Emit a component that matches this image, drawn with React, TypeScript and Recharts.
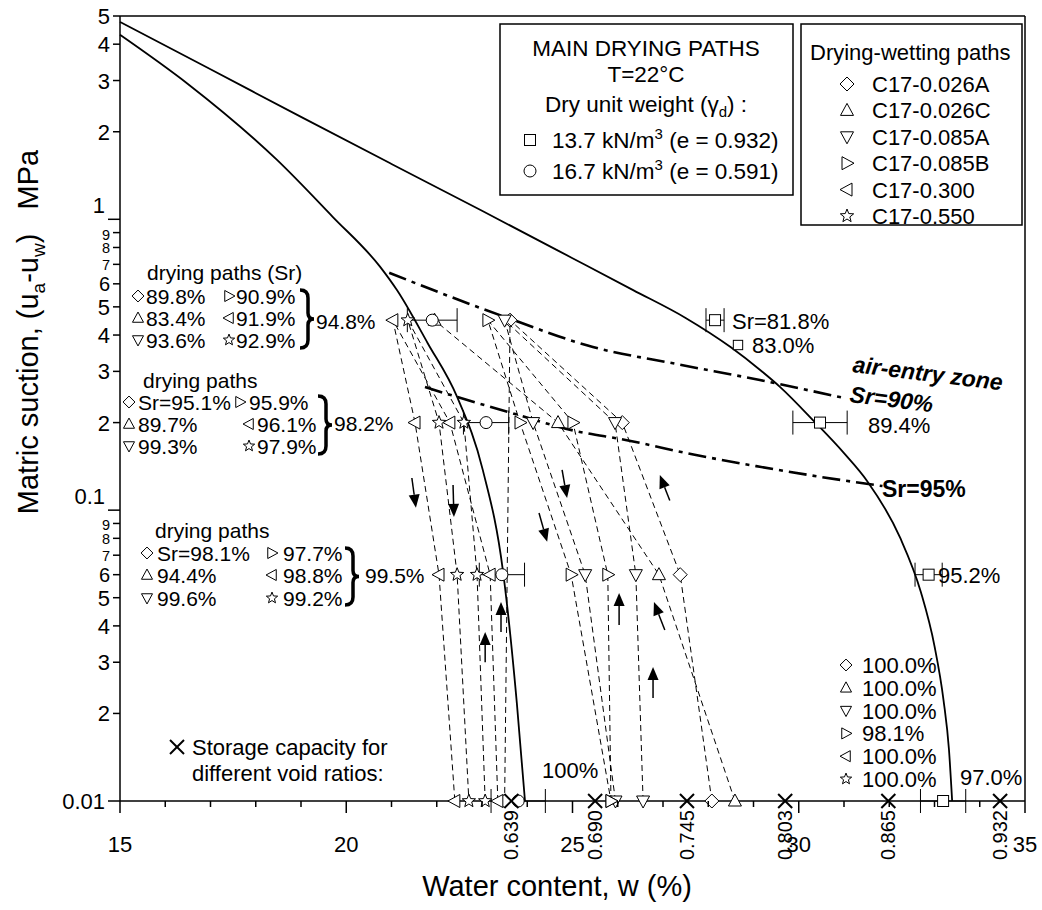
import React from 'react';
import { ScatterChart, Scatter, XAxis, YAxis, ErrorBar, ReferenceLine } from 'recharts';

const FONT = '"Liberation Sans", Arial, Helvetica, sans-serif';

// ---------- axes ----------
const xTicks = [15, 16, 17, 18, 19, 20, 21, 22, 23, 24, 25, 26, 27, 28, 29, 30, 31, 32, 33, 34, 35];
const xMajorTicks = [15, 20, 25, 30, 35];
const yTicks = [0.01, 0.02, 0.03, 0.04, 0.05, 0.06, 0.07, 0.08, 0.09, 0.1, 0.2, 0.3, 0.4, 0.5, 0.6, 0.7, 0.8, 0.9, 1, 2, 3, 4, 5];
const yTickLabels = ['0.01', '2', '3', '4', '5', '6', '7', '8', '9', '0.1', '2', '3', '4', '5', '6', '7', '8', '9', '1', '2', '3', '4', '5'];
const yMajorTicks = [0.01, 0.1, 1];

// ---------- main drying curves (solid) ----------
const curveE0932 = [
  { w: 15, v: 4.77 }, { w: 17, v: 3.28 }, { w: 19, v: 2.25 }, { w: 21, v: 1.55 }, { w: 23, v: 1.07 },
  { w: 25, v: 0.735 }, { w: 26.34, v: 0.571 }, { w: 27.5, v: 0.458 }, { w: 28.5, v: 0.363 },
  { w: 29.14, v: 0.304 }, { w: 29.59, v: 0.265 }, { w: 30.34, v: 0.202 }, { w: 31.0, v: 0.157 },
  { w: 31.51, v: 0.126 }, { w: 32.24, v: 0.0804 }, { w: 32.7, v: 0.0522 }, { w: 33.0, v: 0.0341 },
  { w: 33.2, v: 0.0222 }, { w: 33.32, v: 0.015 }, { w: 33.39, v: 0.01 },
];
const curveE0591 = [
  { w: 15, v: 4.31 }, { w: 16.5, v: 2.92 }, { w: 18.47, v: 1.6 }, { w: 19.7, v: 1.02 }, { w: 20.75, v: 0.686 },
  { w: 21.12, v: 0.571 }, { w: 21.8, v: 0.375 }, { w: 22.45, v: 0.245 }, { w: 23.02, v: 0.137 },
  { w: 23.46, v: 0.0623 }, { w: 23.77, v: 0.0217 }, { w: 23.95, v: 0.01 },
];

// ---------- Sr lines (dash-dot) ----------
const sr90Line = [
  { w: 20.95, v: 0.655 }, { w: 21.92, v: 0.571 }, { w: 23.5, v: 0.462 }, { w: 25.45, v: 0.364 },
  { w: 27.3, v: 0.318 }, { w: 29.14, v: 0.28 }, { w: 31.0, v: 0.243 },
];
const sr95Line = [
  { w: 21.74, v: 0.265 }, { w: 22.45, v: 0.245 }, { w: 23.69, v: 0.215 }, { w: 25.01, v: 0.188 },
  { w: 26.2, v: 0.174 }, { w: 27.7, v: 0.155 }, { w: 29.14, v: 0.141 }, { w: 30.5, v: 0.13 }, { w: 31.85, v: 0.121 },
];

// ---------- main drying path points (with error) ----------
const squares137 = [
  { w: 28.15, v: 0.45, err: 0.2 }, { w: 30.47, v: 0.2, err: 0.6 }, { w: 32.87, v: 0.06, err: 0.3 }, { w: 33.19, v: 0.01, err: 0.5 },
];
const circles167 = [
  { w: 21.9, v: 0.45, err: 0.55 }, { w: 23.09, v: 0.2, err: 0.5 }, { w: 23.44, v: 0.06, err: 0.5 }, { w: 23.8, v: 0.01, err: 0.6 },
];

// ---------- drying-wetting paths ----------
const pathC17_026A = [
  { w: 28.08, v: 0.01 }, { w: 27.38, v: 0.06 }, { w: 26.1, v: 0.2 }, { w: 23.62, v: 0.45 }, { w: 23.5, v: 0.01 },
];
const pathC17_026C = [
  { w: 28.59, v: 0.01 }, { w: 26.91, v: 0.06 }, { w: 24.68, v: 0.2 }, { w: 21.95, v: 0.45 },
];
const pathC17_085A = [
  { w: 26.56, v: 0.01 }, { w: 26.4, v: 0.06 }, { w: 25.94, v: 0.2 }, { w: 23.5, v: 0.45 },
  { w: 24.13, v: 0.2 }, { w: 25.28, v: 0.06 }, { w: 25.95, v: 0.01 },
];
const pathC17_085B = [
  { w: 25.85, v: 0.01 }, { w: 25.78, v: 0.06 }, { w: 25.01, v: 0.2 }, { w: 23.13, v: 0.45 },
  { w: 23.84, v: 0.2 }, { w: 24.97, v: 0.06 }, { w: 25.85, v: 0.01 },
];
const pathC17_300 = [
  { w: 23.35, v: 0.01 }, { w: 23.18, v: 0.06 }, { w: 22.29, v: 0.2 }, { w: 21.03, v: 0.45 },
  { w: 21.52, v: 0.2 }, { w: 22.05, v: 0.06 }, { w: 22.4, v: 0.01 },
];
const pathC17_550 = [
  { w: 23.07, v: 0.01 }, { w: 22.89, v: 0.06 }, { w: 22.6, v: 0.2 }, { w: 21.36, v: 0.45 },
  { w: 22.05, v: 0.2 }, { w: 22.45, v: 0.06 }, { w: 22.71, v: 0.01 },
];

// ---------- storage capacity ----------
const voidRatioLabels = ['0.639', '0.690', '0.745', '0.803', '0.865', '0.932'];
const storageW = [23.65, 25.5, 27.53, 29.7, 31.98, 34.45];
const storagePoints = storageW.map((w, i) => ({ w, v: 0.01, e: voidRatioLabels[i] }));

// ---------- direction arrows (tail -> head) ----------
const arrows = [
  { w1: 21.45, v1: 0.129, w2: 21.54, v2: 0.102 },
  { w1: 22.36, v1: 0.122, w2: 22.38, v2: 0.0948 },
  { w1: 24.77, v1: 0.1375, w2: 24.88, v2: 0.11 },
  { w1: 24.26, v1: 0.0978, w2: 24.44, v2: 0.0778 },
  { w1: 27.15, v1: 0.108, w2: 26.93, v2: 0.132 },
  { w1: 23.42, v1: 0.0381, w2: 23.42, v2: 0.0483 },
  { w1: 23.07, v1: 0.03, w2: 23.07, v2: 0.0381 },
  { w1: 26.03, v1: 0.0403, w2: 26.03, v2: 0.0519 },
  { w1: 27.04, v1: 0.0387, w2: 26.8, v2: 0.0483 },
  { w1: 26.78, v1: 0.0226, w2: 26.78, v2: 0.0289 },
];

// ---------- glyphs ----------
type Kind = 'diamond' | 'triUp' | 'triDown' | 'triRight' | 'triLeft' | 'star' | 'square' | 'circle' | 'cross';

function glyph(kind: Kind, cx: number, cy: number, s = 1) {
  const st = { fill: '#fff', stroke: '#000', strokeWidth: 1 };
  const p = (pts: number[][]) => pts.map(([a, b]) => `${cx + a * s},${cy + b * s}`).join(' ');
  switch (kind) {
    case 'diamond':
      return <polygon points={p([[0, -7], [7, 0], [0, 7], [-7, 0]])} {...st} />;
    case 'triUp':
      return <polygon points={p([[0, -7], [6.5, 5], [-6.5, 5]])} {...st} />;
    case 'triDown':
      return <polygon points={p([[0, 7], [6.5, -5], [-6.5, -5]])} {...st} />;
    case 'triRight':
      return <polygon points={p([[7, 0], [-5, -6.5], [-5, 6.5]])} {...st} />;
    case 'triLeft':
      return <polygon points={p([[-7, 0], [5, -6.5], [5, 6.5]])} {...st} />;
    case 'star': {
      const pts: number[][] = [];
      for (let i = 0; i < 10; i++) {
        const r = i % 2 === 0 ? 7 : 3;
        const a = -Math.PI / 2 + (i * Math.PI) / 5;
        pts.push([r * Math.cos(a), r * Math.sin(a)]);
      }
      return <polygon points={p(pts)} {...st} />;
    }
    case 'square':
      return <rect x={cx - 5.5 * s} y={cy - 5.5 * s} width={11 * s} height={11 * s} {...st} />;
    case 'circle':
      return <circle cx={cx} cy={cy} r={6 * s} {...st} />;
    case 'cross':
      return (
        <g stroke="#000" strokeWidth={2}>
          <line x1={cx - 7 * s} y1={cy - 7 * s} x2={cx + 7 * s} y2={cy + 7 * s} />
          <line x1={cx - 7 * s} y1={cy + 7 * s} x2={cx + 7 * s} y2={cy - 7 * s} />
        </g>
      );
  }
  return <g />;
}

const shapeOf = (kind: Kind) => (props: any) => <g>{glyph(kind, props.cx, props.cy)}</g>;
const NoShape = () => <g />;

const StorageShape = (props: any) => (
  <g>
    {glyph('cross', props.cx, props.cy)}
    <text
      transform={`translate(${props.cx + 7},${props.cy + 9}) rotate(-90)`}
      textAnchor="end"
      fontSize={20}
      fontFamily={FONT}
      fill="#000"
    >
      {props.payload.e}
    </text>
  </g>
);

const ArrowShape = (props: any) => {
  const { x1, y1, x2, y2 } = props;
  const dx = x2 - x1;
  const dy = y2 - y1;
  const L = Math.hypot(dx, dy) || 1;
  const ux = dx / L;
  const uy = dy / L;
  const hl = 13;
  const hw = 5.5;
  const bx = x2 - ux * hl;
  const by = y2 - uy * hl;
  return (
    <g>
      <line x1={x1} y1={y1} x2={bx} y2={by} stroke="#000" strokeWidth={1.5} />
      <polygon points={`${x2},${y2} ${bx - uy * hw},${by + ux * hw} ${bx + uy * hw},${by - ux * hw}`} fill="#000" />
    </g>
  );
};

const XTick = (props: any) => {
  const { x, y, payload } = props;
  const major = xMajorTicks.includes(payload.value);
  const len = major ? 12 : 6;
  return (
    <g>
      <line x1={x} x2={x} y1={y} y2={y + len} stroke="#000" strokeWidth={1.5} />
      {major && (
        <text x={x} y={y + 51} textAnchor="middle" fontSize={22} fontFamily={FONT} fill="#000">
          {payload.value}
        </text>
      )}
    </g>
  );
};

const YTick = (props: any) => {
  const { x, y, payload } = props;
  const idx = yTicks.findIndex((t) => Math.abs(t - payload.value) < 1e-9);
  const lbl = idx >= 0 ? yTickLabels[idx] : '';
  const major = yMajorTicks.some((t) => Math.abs(t - payload.value) < 1e-9);
  const len = major ? 12 : 7;
  const raised = lbl === '1' || lbl === '0.1';
  const sub = payload.value < 1 && !major;
  const tight = sub && (lbl === '7' || lbl === '8' || lbl === '9');
  const six = sub && lbl === '6';
  const nine = sub && lbl === '9';
  return (
    <g>
      <line x1={x - len} x2={x} y1={y} y2={y} stroke="#000" strokeWidth={1.5} />
      <text
        x={x - len - 3}
        y={y + (raised ? -6 : nine ? 7 : tight ? 5.5 : six ? 7 : 8)}
        textAnchor="end"
        fontSize={tight ? 14.5 : six ? 20 : 22}
        fontFamily={FONT}
        fill="#000"
      >
        {lbl}
      </text>
    </g>
  );
};

const dashed = { stroke: '#000', strokeWidth: 1, strokeDasharray: '6 4' };
const dashDot = { stroke: '#000', strokeWidth: 2.6, strokeDasharray: '18 6 4 6' };
const solid = { stroke: '#000', strokeWidth: 1.8 };

// ---------- overlay annotations ----------
const T = (p: any) => <text fontFamily={FONT} fill="#000" {...p} />;

const Brace = ({ x, y0, y1 }: { x: number; y0: number; y1: number }) => {
  const ym = (y0 + y1) / 2;
  const d = `M${x},${y0} Q${x + 8},${y0} ${x + 8},${y0 + 8} L${x + 8},${ym - 6} Q${x + 8},${ym} ${x + 14},${ym} Q${x + 8},${ym} ${x + 8},${ym + 6} L${x + 8},${y1 - 8} Q${x + 8},${y1} ${x},${y1}`;
  return <path d={d} fill="none" stroke="#000" strokeWidth={3.5} />;
};

const Overlay = () => {
  const fs = 21;
  return (
    <svg width={1042} height={910} style={{ position: 'absolute', left: 0, top: 0, pointerEvents: 'none' }}>
      {/* legend box 1 */}
      <rect x={500} y={24} width={293} height={171} fill="#fff" stroke="#000" strokeWidth={1.5} />
      <T x={646} y={56} fontSize={22.5} textAnchor="middle">MAIN DRYING PATHS</T>
      <T x={646} y={82} fontSize={22.5} textAnchor="middle">T=22°C</T>
      <T x={646} y={112} fontSize={22.5} textAnchor="middle">
        Dry unit weight (γ<tspan fontSize={15} dy={5}>d</tspan><tspan dy={-5}>) :</tspan>
      </T>
      {glyph('square', 530, 140)}
      <T x={552} y={148} fontSize={22.5}>
        13.7 kN/m<tspan fontSize={15} dy={-9}>3</tspan><tspan dy={9}> (e = 0.932)</tspan>
      </T>
      {glyph('circle', 530, 171)}
      <T x={552} y={179} fontSize={22.5}>
        16.7 kN/m<tspan fontSize={15} dy={-9}>3</tspan><tspan dy={9}> (e = 0.591)</tspan>
      </T>

      {/* legend box 2 */}
      <rect x={801} y={24} width={221} height={201} fill="#fff" stroke="#000" strokeWidth={1.5} />
      <T x={810} y={60} fontSize={22}>Drying-wetting paths</T>
      {([
        ['diamond', 'C17-0.026A'],
        ['triUp', 'C17-0.026C'],
        ['triDown', 'C17-0.085A'],
        ['triRight', 'C17-0.085B'],
        ['triLeft', 'C17-0.300'],
        ['star', 'C17-0.550'],
      ] as [Kind, string][]).map(([k, s], i) => {
        const cy = 84 + i * 26.4;
        return (
          <g key={s}>
            {glyph(k, 847, cy)}
            <T x={872} y={cy + 8} fontSize={22}>{s}</T>
          </g>
        );
      })}

      {/* left block 1 */}
      <T x={147} y={280} fontSize={fs}>drying paths (Sr)</T>
      {glyph('diamond', 138, 296, 0.85)}<T x={146} y={304} fontSize={fs}>89.8%</T>
      {glyph('triRight', 229, 296, 0.85)}<T x={236} y={304} fontSize={fs}>90.9%</T>
      {glyph('triUp', 138, 318, 0.85)}<T x={146} y={326} fontSize={fs}>83.4%</T>
      {glyph('triLeft', 229, 318, 0.85)}<T x={236} y={326} fontSize={fs}>91.9%</T>
      {glyph('triDown', 138, 340, 0.85)}<T x={146} y={348} fontSize={fs}>93.6%</T>
      {glyph('star', 229, 340, 0.85)}<T x={236} y={348} fontSize={fs}>92.9%</T>
      <Brace x={300} y0={290} y1={348} />
      <T x={316} y={329} fontSize={fs}>94.8%</T>

      {/* left block 2 */}
      <T x={143} y={388} fontSize={fs}>drying paths</T>
      {glyph('diamond', 129, 402, 0.85)}<T x={138} y={410} fontSize={fs}>Sr=95.1%</T>
      {glyph('triRight', 240, 402, 0.85)}<T x={249} y={410} fontSize={fs}>95.9%</T>
      {glyph('triUp', 129, 424, 0.85)}<T x={138} y={432} fontSize={fs}>89.7%</T>
      {glyph('triLeft', 249, 424, 0.85)}<T x={257} y={432} fontSize={fs}>96.1%</T>
      {glyph('triDown', 129, 446, 0.85)}<T x={138} y={454} fontSize={fs}>99.3%</T>
      {glyph('star', 249, 446, 0.85)}<T x={257} y={454} fontSize={fs}>97.9%</T>
      <Brace x={318} y0={396} y1={454} />
      <T x={334} y={431} fontSize={fs}>98.2%</T>

      {/* left block 3 */}
      <T x={155} y={538} fontSize={fs}>drying paths</T>
      {glyph('diamond', 147, 553, 0.85)}<T x={157} y={561} fontSize={fs}>Sr=98.1%</T>
      {glyph('triRight', 272, 553, 0.85)}<T x={283} y={561} fontSize={fs}>97.7%</T>
      {glyph('triUp', 147, 575, 0.85)}<T x={157} y={583} fontSize={fs}>94.4%</T>
      {glyph('triLeft', 272, 575, 0.85)}<T x={283} y={583} fontSize={fs}>98.8%</T>
      {glyph('triDown', 147, 598, 0.85)}<T x={157} y={606} fontSize={fs}>99.6%</T>
      {glyph('star', 272, 598, 0.85)}<T x={283} y={606} fontSize={fs}>99.2%</T>
      <Brace x={345} y0={548} y1={605} />
      <T x={365} y={583} fontSize={fs}>99.5%</T>

      {/* storage capacity */}
      {glyph('cross', 177, 747)}
      <T x={192} y={755} fontSize={22}>Storage capacity for</T>
      <T x={192} y={781} fontSize={22}>different void ratios:</T>
      <T x={542} y={778} fontSize={22}>100%</T>

      {/* bottom-right wetting endpoints */}
      {([
        ['diamond', '100.0%'],
        ['triUp', '100.0%'],
        ['triDown', '100.0%'],
        ['triRight', '98.1%'],
        ['triLeft', '100.0%'],
        ['star', '100.0%'],
      ] as [Kind, string][]).map(([k, s], i) => {
        const cy = 665 + i * 22.8;
        return (
          <g key={k}>
            {glyph(k, 846, cy, 0.85)}
            <T x={862} y={cy + 8} fontSize={22}>{s}</T>
          </g>
        );
      })}

      {/* labels near main path points */}
      <T x={732} y={329} fontSize={22}>Sr=81.8%</T>
      {glyph('square', 738, 345, 0.85)}
      <T x={752} y={353} fontSize={22}>83.0%</T>
      <T x={868} y={433} fontSize={22}>89.4%</T>
      <T x={938} y={583} fontSize={22}>95.2%</T>
      <T x={960} y={785} fontSize={22}>97.0%</T>

      {/* air entry texts */}
      <T x={852} y={372} fontSize={23} fontWeight="bold" fontStyle="italic" transform="rotate(7 852 372)">air-entry zone</T>
      <T x={849} y={402} fontSize={23} fontWeight="bold" fontStyle="italic" transform="rotate(7 849 402)">Sr=90%</T>
      <T x={882} y={497} fontSize={23} fontWeight="bold">Sr=95%</T>

      {/* axis titles */}
      <T x={557} y={896} fontSize={29} textAnchor="middle">Water content, w (%)</T>
      <T transform="translate(38,332) rotate(-90)" fontSize={29} textAnchor="middle" xmlSpace="preserve">
        Matric suction, (u<tspan fontSize={19} dy={7}>a</tspan><tspan dy={-7}>-u</tspan><tspan fontSize={19} dy={7}>w</tspan><tspan dy={-7}>)   MPa</tspan>
      </T>
    </svg>
  );
};

export default function App() {
  return (
    <div style={{ position: 'absolute', left: 0, top: 0, width: 1042, height: 910, background: '#fff', fontFamily: FONT }}>
      <ScatterChart width={1042} height={910} margin={{ top: 16, right: 17, bottom: 49, left: 60 }}>
        <XAxis
          type="number"
          dataKey="w"
          domain={[15, 35]}
          ticks={xTicks}
          interval={0}
          tick={<XTick />}
          tickLine={false}
          tickSize={0}
          tickMargin={0}
          axisLine={{ stroke: '#000', strokeWidth: 1.5 }}
          height={60}
        />
        <YAxis
          type="number"
          dataKey="v"
          scale="log"
          domain={[0.01, 5]}
          ticks={yTicks}
          interval={0}
          tick={<YTick />}
          tickLine={false}
          tickSize={0}
          tickMargin={0}
          axisLine={{ stroke: '#000', strokeWidth: 1.5 }}
          width={60}
        />
        <ReferenceLine y={5} stroke="#000" strokeWidth={1.5} ifOverflow="visible" />
        <ReferenceLine x={35} stroke="#000" strokeWidth={1.5} ifOverflow="visible" />

        <Scatter data={curveE0932} line={solid} shape={NoShape} lineJointType="monotoneX" isAnimationActive={false} />
        <Scatter data={curveE0591} line={solid} shape={NoShape} lineJointType="monotoneX" isAnimationActive={false} />
        <Scatter data={sr90Line} line={dashDot} shape={NoShape} lineJointType="monotoneX" isAnimationActive={false} />
        <Scatter data={sr95Line} line={dashDot} shape={NoShape} lineJointType="monotoneX" isAnimationActive={false} />

        <Scatter data={pathC17_026A} line={dashed} shape={shapeOf('diamond')} isAnimationActive={false} />
        <Scatter data={pathC17_026C} line={dashed} shape={shapeOf('triUp')} isAnimationActive={false} />
        <Scatter data={pathC17_085A} line={dashed} shape={shapeOf('triDown')} isAnimationActive={false} />
        <Scatter data={pathC17_085B} line={dashed} shape={shapeOf('triRight')} isAnimationActive={false} />
        <Scatter data={pathC17_300} line={dashed} shape={shapeOf('triLeft')} isAnimationActive={false} />
        <Scatter data={pathC17_550} line={dashed} shape={shapeOf('star')} isAnimationActive={false} />

        <Scatter data={circles167} shape={shapeOf('circle')} isAnimationActive={false}>
          <ErrorBar dataKey="err" direction="x" width={12} stroke="#000" strokeWidth={1} />
        </Scatter>
        <Scatter data={squares137} shape={shapeOf('square')} isAnimationActive={false}>
          <ErrorBar dataKey="err" direction="x" width={12} stroke="#000" strokeWidth={1} />
        </Scatter>
        <Scatter data={storagePoints} shape={StorageShape} isAnimationActive={false} />

        {arrows.map((a, i) => (
          <ReferenceLine
            key={i}
            segment={[{ x: a.w1, y: a.v1 }, { x: a.w2, y: a.v2 }]}
            shape={ArrowShape}
            ifOverflow="visible"
          />
        ))}
      </ScatterChart>
      <Overlay />
    </div>
  );
}
